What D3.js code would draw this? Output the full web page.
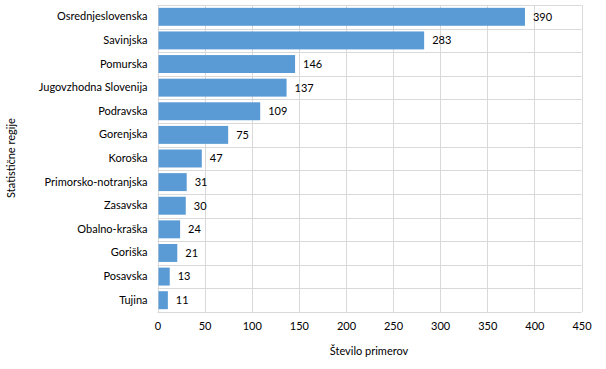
<!DOCTYPE html>
<html><head><meta charset="utf-8">
<script src="https://cdn.jsdelivr.net/npm/d3@7"></script>
<style>body{margin:0;background:#fff}svg{display:block}text{font-family:Lato,"Open Sans",sans-serif;fill:#000}</style>
</head><body><svg id="c" width="606" height="369"></svg>
<script>
const categories = ["Osrednjeslovenska","Savinjska","Pomurska","Jugovzhodna Slovenija","Podravska","Gorenjska","Koroška","Primorsko-notranjska","Zasavska","Obalno-kraška","Goriška","Posavska","Tujina"];
const values = [390,283,146,137,109,75,47,31,30,24,21,13,11];
const xTicks = [0,50,100,150,200,250,300,350,400,450];
const xTitle = "Število primerov";
const yTitle = "Statistične regije";

const svg = d3.select("#c");
const L = 157.5, R = 581.5, T = 5, B = 312;
const x = d3.scaleLinear().domain([0,450]).range([L,R]);
const y = d3.scaleBand().domain(categories).range([T,B]).paddingInner(0.24).paddingOuter(0.12);
const grid = "#d9d9d9";

// vertical gridlines
svg.append("g").selectAll("line").data(xTicks).join("line")
  .attr("x1",d=>Math.round(x(d))+0.5).attr("x2",d=>Math.round(x(d))+0.5)
  .attr("y1",T).attr("y2",B).attr("stroke",grid);
// horizontal band lines
const bandEdges = d3.range(categories.length+1).map(i=>T + i*(B-T)/categories.length);
svg.append("g").selectAll("line").data(bandEdges).join("line")
  .attr("x1",L).attr("x2",R).attr("y1",d=>Math.round(d)+0.5).attr("y2",d=>Math.round(d)+0.5).attr("stroke",grid);

svg.append("g").selectAll("rect").data(values).join("rect")
  .attr("x",x(0)+1).attr("y",(d,i)=>y(categories[i]))
  .attr("width",d=>x(d)-x(0)-1).attr("height",y.bandwidth()).attr("fill","#5b9bd5");

svg.append("g").selectAll("text").data(values).join("text")
  .attr("x",d=>x(d)+8).attr("y",(d,i)=>y(categories[i])+y.bandwidth()/2)
  .attr("dy","0.35em").attr("font-size",11).text(d=>d);

// axes
const xa = svg.append("g").attr("transform",`translate(0,${B})`)
  .call(d3.axisBottom(x).tickValues(xTicks).tickSize(0).tickPadding(10));
xa.select(".domain").remove();
xa.selectAll("text").attr("font-size",11).attr("font-family","Lato");

const ya = svg.append("g").attr("transform",`translate(${L},0)`)
  .call(d3.axisLeft(y).tickSize(0).tickPadding(10));
ya.select(".domain").remove();
ya.selectAll("text").attr("font-size",11).attr("font-family","Lato");

svg.append("text").attr("x",369).attr("y",355).attr("text-anchor","middle").attr("font-size",11).text(xTitle);
svg.append("text").attr("transform","translate(15,158) rotate(-90)").attr("text-anchor","middle").attr("font-size",11).text(yTitle);
</script></body></html>
